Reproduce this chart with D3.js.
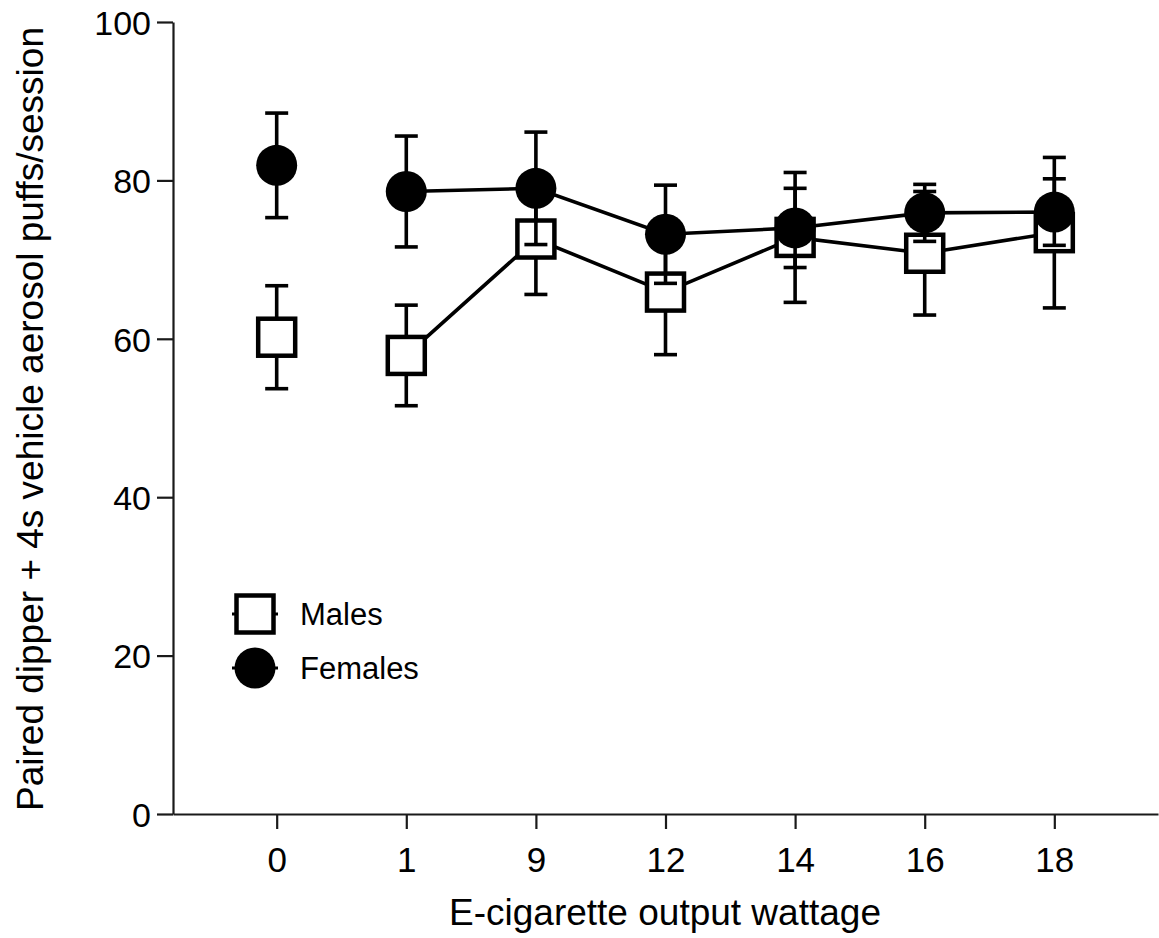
<!DOCTYPE html>
<html>
<head>
<meta charset="utf-8">
<script src="https://cdn.jsdelivr.net/npm/d3@7"></script>
<style>
  html, body { margin: 0; padding: 0; background: #fff; }
  svg { display: block; }
  text { font-family: "Liberation Sans", Arial, Helvetica, sans-serif; fill: #000; }
</style>
</head>
<body>
<svg id="chart" width="1159" height="938"></svg>
<script>
// ---- Data ----
const categories = ["0", "1", "9", "12", "14", "16", "18"];
const malesMean   = [60.2, 57.9, 72.6, 65.9, 72.8, 70.8, 73.4];
const malesSem    = [6.5, 6.35, 7.0, 7.9, 8.2, 7.8, 9.5];
const femalesMean = [81.9, 78.6, 79.0, 73.2, 74.0, 75.9, 76.0];
const femalesSem  = [6.6, 7.0, 7.1, 6.2, 5.0, 3.6, 4.2];
const yTicks = [0, 20, 40, 60, 80, 100];
const seriesNames = ["Males", "Females"];
// points connected by the line (0 W is not connected)
const connectedFrom = 1;

// ---- Layout ----
const svg = d3.select("#chart");
const plotLeft = 173, plotRight = 1158, plotTop = 22, plotBottom = 814;

const x = d3.scalePoint().domain(categories).range([plotLeft, plotRight]).padding(0.8);
const y = d3.scaleLinear().domain([0, 100]).range([plotBottom, plotTop]);

// Axes
const yAxis = d3.axisLeft(y).tickValues(yTicks).tickSize(16).tickSizeOuter(0).tickPadding(6);
const gy = svg.append("g").attr("transform", `translate(${plotLeft},0)`).call(yAxis);
gy.select(".domain").attr("stroke", "#1a1a1a").attr("stroke-width", 2.2);
gy.selectAll(".tick line").attr("stroke", "#1a1a1a").attr("stroke-width", 2.2);
gy.selectAll(".tick text").style("font-size", "34px").attr("dy", "0.36em");

const xAxis = d3.axisBottom(x).tickSize(15).tickSizeOuter(0).tickPadding(18);
const gx = svg.append("g").attr("transform", `translate(0,${plotBottom})`).call(xAxis);
gx.select(".domain").attr("stroke", "#1a1a1a").attr("stroke-width", 2.2);
gx.selectAll(".tick line").attr("stroke", "#1a1a1a").attr("stroke-width", 2.2);
gx.selectAll(".tick text").style("font-size", "35px");

// Axis titles
svg.append("text")
  .attr("x", 665).attr("y", 925)
  .attr("text-anchor", "middle")
  .style("font-size", "37px")
  .text("E-cigarette output wattage");

svg.append("text")
  .attr("transform", "translate(43,419) rotate(-90)")
  .attr("text-anchor", "middle")
  .style("font-size", "37px")
  .text("Paired dipper + 4s vehicle aerosol puffs/session");

// ---- Marks ----
const capHalf = 11.5;
function drawErrorBars(means, sems) {
  const g = svg.append("g").attr("stroke", "#000").attr("stroke-width", 3.6).attr("fill", "none");
  categories.forEach((c, i) => {
    const cx = x(c), hi = y(means[i] + sems[i]), lo = y(means[i] - sems[i]);
    g.append("line").attr("x1", cx).attr("x2", cx).attr("y1", hi).attr("y2", lo);
    g.append("line").attr("x1", cx - capHalf).attr("x2", cx + capHalf).attr("y1", hi).attr("y2", hi);
    g.append("line").attr("x1", cx - capHalf).attr("x2", cx + capHalf).attr("y1", lo).attr("y2", lo);
  });
}
function drawLine(means) {
  const pts = categories.map((c, i) => [x(c), y(means[i])]).slice(connectedFrom);
  svg.append("path")
    .attr("d", d3.line()(pts))
    .attr("fill", "none").attr("stroke", "#000").attr("stroke-width", 3.6);
}

// Males
const sq = 37;
drawErrorBars(malesMean, malesSem);
drawLine(malesMean);
svg.append("g").selectAll("rect").data(categories).join("rect")
  .attr("x", c => x(c) - sq / 2)
  .attr("y", (c, i) => y(malesMean[i]) - sq / 2)
  .attr("width", sq).attr("height", sq)
  .attr("fill", "#fff").attr("stroke", "#000").attr("stroke-width", 4.5);

// Females
const r = 20.5;
drawErrorBars(femalesMean, femalesSem);
drawLine(femalesMean);
svg.append("g").selectAll("circle").data(categories).join("circle")
  .attr("cx", c => x(c))
  .attr("cy", (c, i) => y(femalesMean[i]))
  .attr("r", r)
  .attr("fill", "#000");

// ---- Legend ----
const legend = svg.append("g");
const legX = 255;
const legY = [614, 668];
legend.append("line").attr("x1", legX - 23).attr("x2", legX + 23).attr("y1", legY[0]).attr("y2", legY[0])
  .attr("stroke", "#000").attr("stroke-width", 3);
legend.append("rect").attr("x", legX - sq / 2).attr("y", legY[0] - sq / 2)
  .attr("width", sq).attr("height", sq)
  .attr("fill", "#fff").attr("stroke", "#000").attr("stroke-width", 4.5);
legend.append("line").attr("x1", legX - 23).attr("x2", legX + 23).attr("y1", legY[1]).attr("y2", legY[1])
  .attr("stroke", "#000").attr("stroke-width", 3);
legend.append("circle").attr("cx", legX).attr("cy", legY[1]).attr("r", r).attr("fill", "#000");
seriesNames.forEach((n, i) => {
  legend.append("text").attr("x", 300).attr("y", legY[i]).attr("dy", "0.36em")
    .style("font-size", "31px").text(n);
});
</script>
</body>
</html>
